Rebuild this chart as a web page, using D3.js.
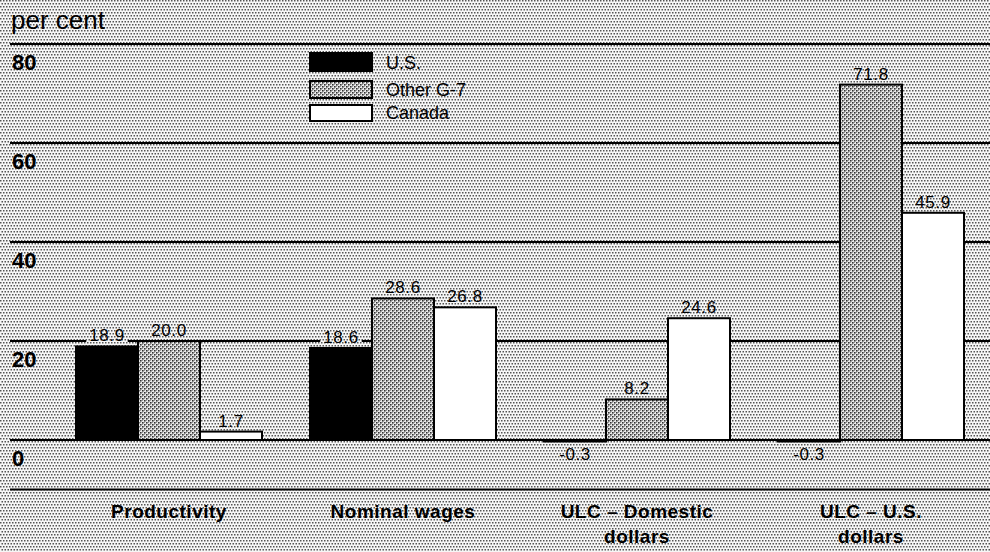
<!DOCTYPE html>
<html>
<head>
<meta charset="utf-8">
<script src="https://cdn.jsdelivr.net/npm/d3@7"></script>
<style>
  html, body { margin: 0; padding: 0; background: #fff; }
  svg { display: block; font-family: "Liberation Sans", Arial, Helvetica, sans-serif; }
</style>
</head>
<body>
<svg id="chart" width="990" height="552"></svg>
<script>
// ---- data ----
const categories = ["Productivity", "Nominal wages", "ULC \u2013 Domestic\ndollars", "ULC \u2013 U.S.\ndollars"];
const seriesNames = ["U.S.", "Other G-7", "Canada"];
const usValues = [18.9, 18.6, -0.3, -0.3];
const otherG7Values = [20.0, 28.6, 8.2, 71.8];
const canadaValues = [1.7, 26.8, 24.6, 45.9];
const yTicks = [0, 20, 40, 60, 80];
const yUnit = "per cent";

const seriesValues = [usValues, otherG7Values, canadaValues];

const W = 990, H = 552;
const svg = d3.select("#chart");
const defs = svg.append("defs");

// background stipple
const bgPat = defs.append("pattern").attr("id", "bgPat")
  .attr("patternUnits", "userSpaceOnUse").attr("width", 6).attr("height", 6);
bgPat.append("rect").attr("width", 6).attr("height", 6).attr("fill", "#f6f6f6");
[[0,0],[3,0],[1.5,3],[4.5,3]].forEach(([x,y]) => {
  bgPat.append("rect").attr("x", x).attr("y", y).attr("width", 1.5).attr("height", 1.5).attr("fill", "#555");
});
// denser stipple for Other G-7
const g7Pat = defs.append("pattern").attr("id", "g7Pat")
  .attr("patternUnits", "userSpaceOnUse").attr("width", 4).attr("height", 4);
g7Pat.append("rect").attr("width", 4).attr("height", 4).attr("fill", "#ececec");
[[0,0],[2,2]].forEach(([x,y]) => {
  g7Pat.append("rect").attr("x", x).attr("y", y).attr("width", 1.6).attr("height", 1.6).attr("fill", "#333");
});
[[2,0],[0,2]].forEach(([x,y]) => {
  g7Pat.append("rect").attr("x", x).attr("y", y).attr("width", 1).attr("height", 1).attr("fill", "#999");
});

const fills = ["#000", "url(#g7Pat)", "#fff"];

svg.append("rect").attr("width", W).attr("height", H).attr("fill", "url(#bgPat)");

// scales
const y = d3.scaleLinear().domain([-10, 80]).range([489.5, 44]);
const x0 = d3.scaleBand().domain(categories).range([52, 988])
  .paddingInner(0.205).paddingOuter(0.1025);
const x1 = d3.scaleBand().domain(seriesNames).range([0, x0.bandwidth()]).padding(0);

// unit label
svg.append("text").attr("x", 11).attr("y", 29)
  .attr("font-size", 26).attr("fill", "#000").text(yUnit);

// gridlines
const grid = svg.append("g");
grid.selectAll("line").data(yTicks).join("line")
  .attr("x1", 10).attr("x2", W)
  .attr("y1", d => y(d)).attr("y2", d => y(d))
  .attr("stroke", "#000").attr("stroke-width", 2.2);
// bottom rule
grid.append("line").attr("x1", 10).attr("x2", W)
  .attr("y1", y(-10)).attr("y2", y(-10))
  .attr("stroke", "#000").attr("stroke-width", 2.2);

// tick labels (below each gridline)
svg.append("g").selectAll("text").data(yTicks).join("text")
  .attr("x", 12).attr("y", d => y(d) + 26)
  .attr("font-size", 22).attr("font-weight", "bold").attr("fill", "#000")
  .text(d => d);

// bars
const groups = svg.append("g").selectAll("g").data(categories).join("g")
  .attr("transform", c => `translate(${x0(c)},0)`);

const barData = (c, ci) => seriesNames.map((s, si) => ({ s, si, v: seriesValues[si][ci] }));

groups.each(function(c, ci) {
  const g = d3.select(this);
  const data = barData(c, ci);
  g.selectAll("rect.bar").data(data).join("rect").attr("class", "bar")
    .attr("x", d => x1(d.s))
    .attr("width", x1.bandwidth())
    .attr("y", d => d.v >= 0 ? y(d.v) : y(0))
    .attr("height", d => Math.max(0.5, Math.abs(y(d.v) - y(0))))
    .attr("fill", d => fills[d.si])
    .attr("stroke", "#000").attr("stroke-width", 2);
});

// value labels with background knockout
const labelLayer = svg.append("g");
categories.forEach((c, ci) => {
  seriesNames.forEach((s, si) => {
    const v = seriesValues[si][ci];
    const cx = x0(c) + x1(s) + x1.bandwidth() / 2;
    const ty = v >= 0 ? y(v) - 5 : y(0) + 20;
    const lg = labelLayer.append("g");
    const t = lg.append("text").attr("x", cx).attr("y", ty)
      .attr("text-anchor", "middle").attr("font-size", 17)
      .attr("letter-spacing", 0.6).attr("fill", "#000")
      .text(v.toFixed(1));
    const bb = t.node().getBBox();
    lg.insert("rect", "text").attr("x", bb.x - 3).attr("y", bb.y + 2)
      .attr("width", bb.width + 6).attr("height", bb.height - 3)
      .attr("fill", "url(#bgPat)");
  });
});

// category labels
svg.append("g").selectAll("text").data(categories).join("text")
  .attr("x", c => x0(c) + x0.bandwidth() / 2)
  .attr("y", 518)
  .attr("text-anchor", "middle").attr("font-size", 19).attr("font-weight", "bold")
  .attr("letter-spacing", 0.5).attr("fill", "#000")
  .each(function(c) {
    const lines = c.split("\n");
    d3.select(this).selectAll("tspan").data(lines).join("tspan")
      .attr("x", x0(c) + x0.bandwidth() / 2)
      .attr("dy", (d, i) => i === 0 ? 0 : 25)
      .text(d => d);
  });

// legend
const legendBoxes = [{y: 53, h: 18}, {y: 81, h: 17}, {y: 105, h: 16}];
const legend = svg.append("g");
seriesNames.forEach((s, si) => {
  legend.append("rect").attr("x", 310).attr("y", legendBoxes[si].y)
    .attr("width", 62).attr("height", legendBoxes[si].h)
    .attr("fill", fills[si]).attr("stroke", "#000").attr("stroke-width", 2);
  legend.append("text").attr("x", 386).attr("y", legendBoxes[si].y + legendBoxes[si].h - 2)
    .attr("font-size", 18).attr("fill", "#000").text(s);
});
</script>
</body>
</html>
